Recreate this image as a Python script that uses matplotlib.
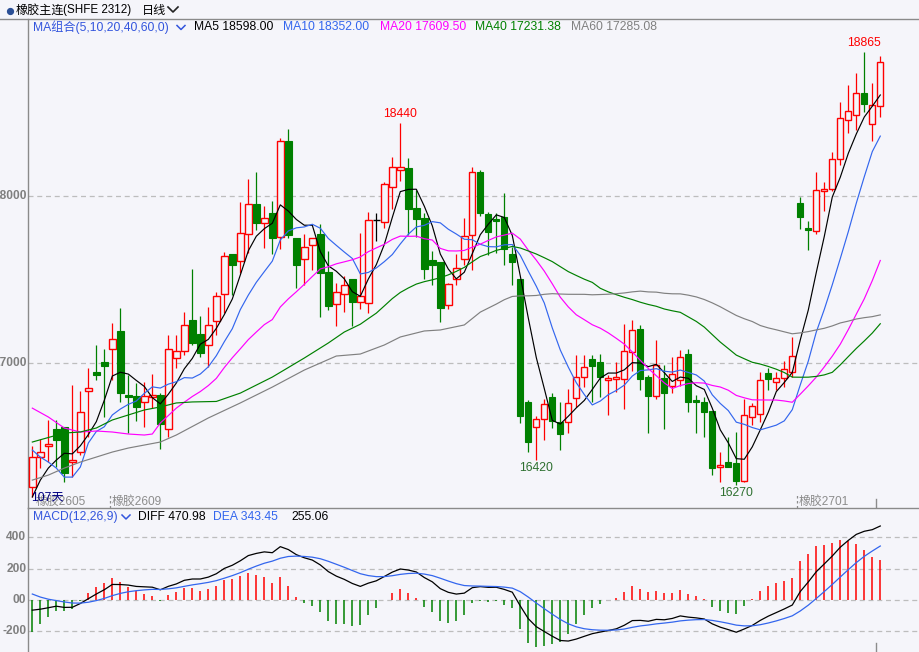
import numpy as np
import pandas as pd
import matplotlib
matplotlib.use('Agg')
import matplotlib.pyplot as plt
from matplotlib.patches import Rectangle
from matplotlib.lines import Line2D
import matplotlib.transforms as mtrans

# ---------------- data ----------------
opens = [16257, 16437, 16503, 16605, 16617, 16407, 16467, 16832, 16946, 17006,
         17084, 17192, 16808, 16802, 16766, 16796, 16808, 16605, 17030, 17072,
         17257, 17174, 17108, 17251, 17413, 17653, 17611, 17772, 17952, 17838,
         17898, 17754, 18329, 17748, 17623, 17707, 17772, 17545, 17353, 17413,
         17503, 17365, 17359, 17856, 17844, 18054, 18156, 18168, 17928, 17868,
         17617, 17605, 17347, 17503, 17623, 17766, 18144, 17892, 17862, 17874,
         17653, 17503, 16766, 16617, 16665, 16796, 16647, 16647, 16790, 16916,
         17024, 17006, 16898, 16904, 16904, 17066, 17204, 16916, 16802, 16910,
         16862, 16898, 17054, 16778, 16766, 16713, 16377, 16407, 16401, 16293,
         16677, 16695, 16940, 16886, 16910, 16946, 17958, 17808, 17790, 18030,
         18042, 18222, 18455, 18485, 18617, 18431, 18539]
highs = [16503, 16545, 16659, 16659, 16617, 16868, 16832, 16970, 17108, 17084,
         17240, 17329, 16928, 16880, 16886, 16934, 16820, 17168, 17168, 17305,
         17563, 17281, 17335, 17425, 17665, 17653, 17964, 18102, 18144, 17940,
         17970, 18347, 18401, 17748, 17772, 17748, 17832, 17671, 17479, 17521,
         17503, 17778, 17904, 17898, 18084, 18234, 18440, 18228, 18036, 17898,
         17671, 17605, 17479, 17653, 17868, 18174, 18156, 17904, 17898, 18018,
         17695, 17503, 16778, 16683, 16784, 16820, 16766, 16844, 17048, 17048,
         17048, 17054, 16928, 17006, 17234, 17257, 17228, 16928, 17138, 16988,
         17036, 17078, 17084, 16808, 16796, 16713, 16467, 16557, 16587, 16784,
         16760, 16946, 16970, 16946, 17012, 17156, 17994, 17850, 18144, 18084,
         18263, 18563, 18665, 18737, 18865, 18677, 18838]
lows = [16198, 16371, 16407, 16377, 16287, 16317, 16449, 16557, 16898, 16677,
        16898, 16766, 16581, 16653, 16617, 16731, 16485, 16557, 16970, 17048,
        17108, 17036, 16976, 17168, 17299, 17407, 17539, 17659, 17796, 17689,
        17653, 17683, 17748, 17449, 17467, 17557, 17275, 17317, 17222, 17305,
        17222, 17323, 17299, 17730, 17808, 17922, 18090, 17766, 17754, 17503,
        17467, 17245, 17323, 17467, 17587, 17557, 17880, 17647, 17659, 17587,
        17467, 16641, 16467, 16420, 16539, 16611, 16479, 16581, 16737, 16856,
        16766, 16796, 16689, 16826, 16725, 16952, 16838, 16581, 16784, 16605,
        16820, 16862, 16707, 16581, 16557, 16329, 16287, 16377, 16270, 16287,
        16629, 16647, 16838, 16838, 16856, 16916, 17802, 17677, 17772, 17910,
        18030, 18186, 18377, 18395, 18503, 18329, 18473]
closes = [16437, 16467, 16515, 16539, 16341, 16419, 16707, 16850, 16928, 16982,
          17144, 16820, 16796, 16737, 16802, 16808, 16635, 17084, 17072, 17228,
          17120, 17060, 17228, 17401, 17641, 17587, 17778, 17952, 17838, 17868,
          17749, 18329, 17766, 17587, 17695, 17748, 17539, 17341, 17425, 17467,
          17365, 17401, 17856, 17856, 18072, 18174, 18174, 17922, 17862, 17563,
          17587, 17329, 17473, 17569, 17760, 18144, 17898, 17784, 17850, 17683,
          17605, 16683, 16527, 16665, 16754, 16653, 16575, 16760, 16916, 16976,
          16982, 16916, 16910, 16916, 17072, 17198, 16904, 16802, 16988, 16820,
          16934, 17036, 16766, 16766, 16707, 16371, 16389, 16377, 16293, 16689,
          16743, 16898, 16904, 16910, 16964, 17042, 17874, 17796, 18036, 18042,
          18222, 18467, 18509, 18617, 18551, 18545, 18803]

# moving-average values before enough history exists inside the window
ma5_head_idx = [0, 1, 2, 3]
ma5_head_val = [16198, 16299, 16371, 16419]
ma10_head_idx = [0, 1, 2, 3, 4, 5, 6, 7, 8]
ma10_head_val = [16479, 16437, 16407, 16371, 16317, 16317, 16377, 16521, 16590]
ma20_head_idx = [0, 2, 4, 6, 8, 10, 12, 14, 15, 16, 18]
ma20_head_val = [16730, 16677, 16611, 16587, 16593, 16587, 16575, 16569, 16575, 16641, 16730]
ma40_head_idx = [0, 4, 6, 8, 10, 12, 14, 16, 18, 20, 23, 26, 30, 34, 37]
ma40_head_val = [16527, 16581, 16587, 16611, 16659, 16689, 16719, 16737, 16761, 16767,
                 16770, 16820, 16916, 17030, 17120]
ma60_head_idx = [0, 2, 4, 6, 8, 10, 12, 14, 16, 18, 22, 26, 30, 34, 38, 41, 44, 46, 49,
                 51, 54, 56, 58]
ma60_head_val = [16299, 16329, 16371, 16407, 16437, 16467, 16491, 16509, 16527, 16569,
                 16671, 16761, 16856, 16958, 17042, 17054, 17108, 17156, 17192, 17198,
                 17228, 17305, 17353]

# MACD state on the first visible day (EMA12, EMA26, DEA)
macd_init = [16450, 16515, 38]

ma_periods = [5, 10, 20, 40, 60]
ma_colors = ['#000000', '#3366EE', '#FF00FF', '#008000', '#808080']
ma_legend = ['MA5 18598.00', 'MA10 18352.00', 'MA20 17609.50', 'MA40 17231.38', 'MA60 17285.08']
macd_legend = ['DIFF 470.98', 'DEA 343.45', '255.06']

high_label_idx = [46, 104]
low_label_idx = [63, 88]
contracts = ['橡胶2605', '橡胶2609', '橡胶2701']
contract_pos = [0.3, 9.7, 95.6]
days_label = '107天'
price_ticks = [18000, 17000]
macd_ticks = [400, 200, 0, -200]
macd_tick_labels = ['400', '200', '00', '-200']

# ---------------- figure ----------------
BG = '#F5F5FA'
W, H = 919, 652
fig = plt.figure(figsize=(W / 100, H / 100), dpi=100, facecolor=BG)
CJK = ['Liberation Sans', 'Noto Sans CJK SC', 'DejaVu Sans']


def rect(x0, y0, x1, y1):
    return [x0 / W, 1 - y1 / H, (x1 - x0) / W, (y1 - y0) / H]


def fx(x):
    return x / W


def fy(y):
    return 1 - y / H


ax = fig.add_axes(rect(28, 19, 919, 508), facecolor=BG)
ax2 = fig.add_axes(rect(28, 508, 919, 652), facecolor=BG)
n = len(closes)
for a in (ax, ax2):
    a.set_xlim(-0.54, 110.84)
    a.set_xticks([])
    a.set_yticks([])
    for s in ('top', 'right', 'bottom'):
        a.spines[s].set_visible(False)
    a.spines['left'].set_color('#8A8A8A')
    a.spines['left'].set_linewidth(1.0)
ax2.spines['top'].set_visible(True)
ax2.spines['top'].set_color('#8A8A8A')
ax2.spines['top'].set_linewidth(1.0)
ax.set_ylim(16132, 19060)
ax2.set_ylim(-332, 587)

# header line
fig.add_artist(Line2D([0, 1], [fy(18.5), fy(18.5)], transform=fig.transFigure,
                      color='#8A8A8A', lw=1.0))

# grid
dash = (0, (4, 3))
for t in price_ticks:
    ax.axhline(t, color='#BDBDBD', lw=0.9, ls=dash, zorder=1)
    ax.text(-0.0017, t, str(t), transform=mtrans.blended_transform_factory(ax.transAxes, ax.transData),
            ha='right', va='center', fontsize=8.6, fontweight='bold', color='#7F7F7F',
            family=CJK, clip_on=False)
for t, lab in zip(macd_ticks, macd_tick_labels):
    ax2.axhline(t, color='#BDBDBD', lw=0.9, ls=dash, zorder=1)
    ax2.text(-0.0017, t, lab, transform=mtrans.blended_transform_factory(ax2.transAxes, ax2.transData),
             ha='right', va='center', fontsize=8.6, fontweight='bold', color='#7F7F7F',
             family=CJK, clip_on=False)

# candles
UP, DN = '#FF0000', '#008000'
bw = 0.8
for i in range(n):
    o, h, l, c = opens[i], highs[i], lows[i], closes[i]
    if c > o:
        col = UP
    elif c < o:
        col = DN
    else:
        col = '#000000'
    ax.vlines(i, l, h, color=col, lw=0.9, zorder=2)
    lo, hi = min(o, c), max(o, c)
    if col == UP:
        ax.add_patch(Rectangle((i - bw / 2, lo), bw, hi - lo, facecolor=BG, edgecolor=col,
                               lw=1.0, zorder=3))
    elif col == DN:
        ax.add_patch(Rectangle((i - bw / 2, lo), bw, max(hi - lo, 4), facecolor=col, edgecolor=col,
                               lw=0.8, zorder=3))
    else:
        ax.hlines(c, i - bw / 2, i + bw / 2, color=col, lw=1.0, zorder=3)

# moving averages
cs = pd.Series(closes, dtype=float)
heads = [(ma5_head_idx, ma5_head_val), (ma10_head_idx, ma10_head_val),
         (ma20_head_idx, ma20_head_val), (ma40_head_idx, ma40_head_val),
         (ma60_head_idx, ma60_head_val)]
for p, colr, (hi_, hv) in zip(ma_periods, ma_colors, heads):
    m = cs.rolling(p).mean().values
    xs = list(hi_) + list(range(p - 1, n))
    ys = list(hv) + list(m[p - 1:])
    ax.plot(xs, ys, color=colr, lw=0.85, zorder=4)

# high / low labels
for i in high_label_idx:
    ax.annotate(str(highs[i]), xy=(i, highs[i]), xytext=(0, 1.5), textcoords='offset points',
                ha='center', va='bottom', fontsize=8.8, color='#FF0000', family=CJK, zorder=6)
for i in low_label_idx:
    ax.annotate(str(lows[i]), xy=(i, lows[i]), xytext=(0, -1.5), textcoords='offset points',
                ha='center', va='top', fontsize=8.8, color='#2E7030', family=CJK, zorder=6)

# contract labels along the bottom of the price panel
bt = mtrans.blended_transform_factory(ax.transData, ax.transAxes)
for lab, pos in zip(contracts, contract_pos):
    ax.text(pos + 0.15, 0.012, lab, transform=bt, ha='left', va='center', fontsize=8.6,
            color='#8C8C8C', family=CJK, zorder=6)
    if pos > 1:
        ax.plot([pos, pos], [0, 0.03], transform=bt, color='#8C8C8C', lw=0.9, ls=(0, (2, 2)))
ax.text(0.003, 0.022, days_label, transform=ax.transAxes, ha='left', va='center', fontsize=8.8,
        color='#000080', family=CJK, zorder=7)
# cursor marks
ax.plot([105.5, 105.5], [0, 0.018], transform=bt, color='#8C8C8C', lw=1.0)
bt2 = mtrans.blended_transform_factory(ax2.transData, ax2.transAxes)
ax2.plot([105.5, 105.5], [0, 0.06], transform=bt2, color='#8C8C8C', lw=1.0)

# MACD
e12, e26, dea = macd_init
difs, deas = [], []
for t in range(n):
    if t > 0:
        e12 += 2 / 13 * (closes[t] - e12)
        e26 += 2 / 27 * (closes[t] - e26)
        dea += 2 / 10 * ((e12 - e26) - dea)
    difs.append(e12 - e26)
    deas.append(dea)
difs = np.array(difs)
deas = np.array(deas)
hist = 2 * (difs - deas)
hcol = [UP if v >= 0 else DN for v in hist]
ax2.vlines(range(n), 0, hist, colors=hcol, lw=1.1, zorder=2)
ax2.plot(range(n), difs, color='#000000', lw=0.9, zorder=3)
ax2.plot(range(n), deas, color='#3366EE', lw=0.9, zorder=3)

# ---------------- header texts ----------------
fig.add_artist(Line2D([fx(9.5)], [fy(10.5)], marker='o', markersize=4.2, color='#2B4F96',
                      transform=fig.transFigure))
fig.text(fx(16), fy(10.5), '橡胶主连', fontsize=8.7, family=['Noto Sans CJK SC', 'DejaVu Sans'],
         color='#000000', va='center', ha='left')
fig.text(fx(63), fy(10.5), '(SHFE 2312)', fontsize=8.4, family=['Liberation Sans', 'DejaVu Sans'],
         color='#000000', va='center', ha='left')
fig.text(fx(142), fy(10.5), '日线', fontsize=8.7, family=['Noto Sans CJK SC', 'DejaVu Sans'],
         color='#000000', va='center', ha='left')
fig.add_artist(Line2D([fx(168), fx(173), fx(178)], [fy(7), fy(12), fy(7)], transform=fig.transFigure,
                      color='#222222', lw=1.2))

fig.text(fx(33), fy(27.5), 'MA组合(5,10,20,40,60,0)', fontsize=8.7, family=CJK, color='#3355DD',
         va='center', ha='left')
fig.add_artist(Line2D([fx(177), fx(181), fx(185)], [fy(25.5), fy(29.5), fy(25.5)],
                      transform=fig.transFigure, color='#3355DD', lw=1.1))
for lab, x, colr in zip(ma_legend, [194, 283, 380, 475, 571], ma_colors):
    fig.text(fx(x), fy(27.5), lab, fontsize=8.7, family=CJK, color=colr, va='center', ha='left')

fig.text(fx(33), fy(517), 'MACD(12,26,9)', fontsize=8.7, family=CJK, color='#3355DD',
         va='center', ha='left')
fig.add_artist(Line2D([fx(122), fx(126), fx(130)], [fy(515), fy(519), fy(515)],
                      transform=fig.transFigure, color='#3355DD', lw=1.1))
for lab, x, colr in zip(macd_legend, [138, 213, 291], ['#000000', '#3366EE', '#000000']):
    fig.text(fx(x), fy(517), lab, fontsize=8.7, family=CJK, color=colr, va='center', ha='left')

fig.savefig('out.png', dpi=100, facecolor=BG)
